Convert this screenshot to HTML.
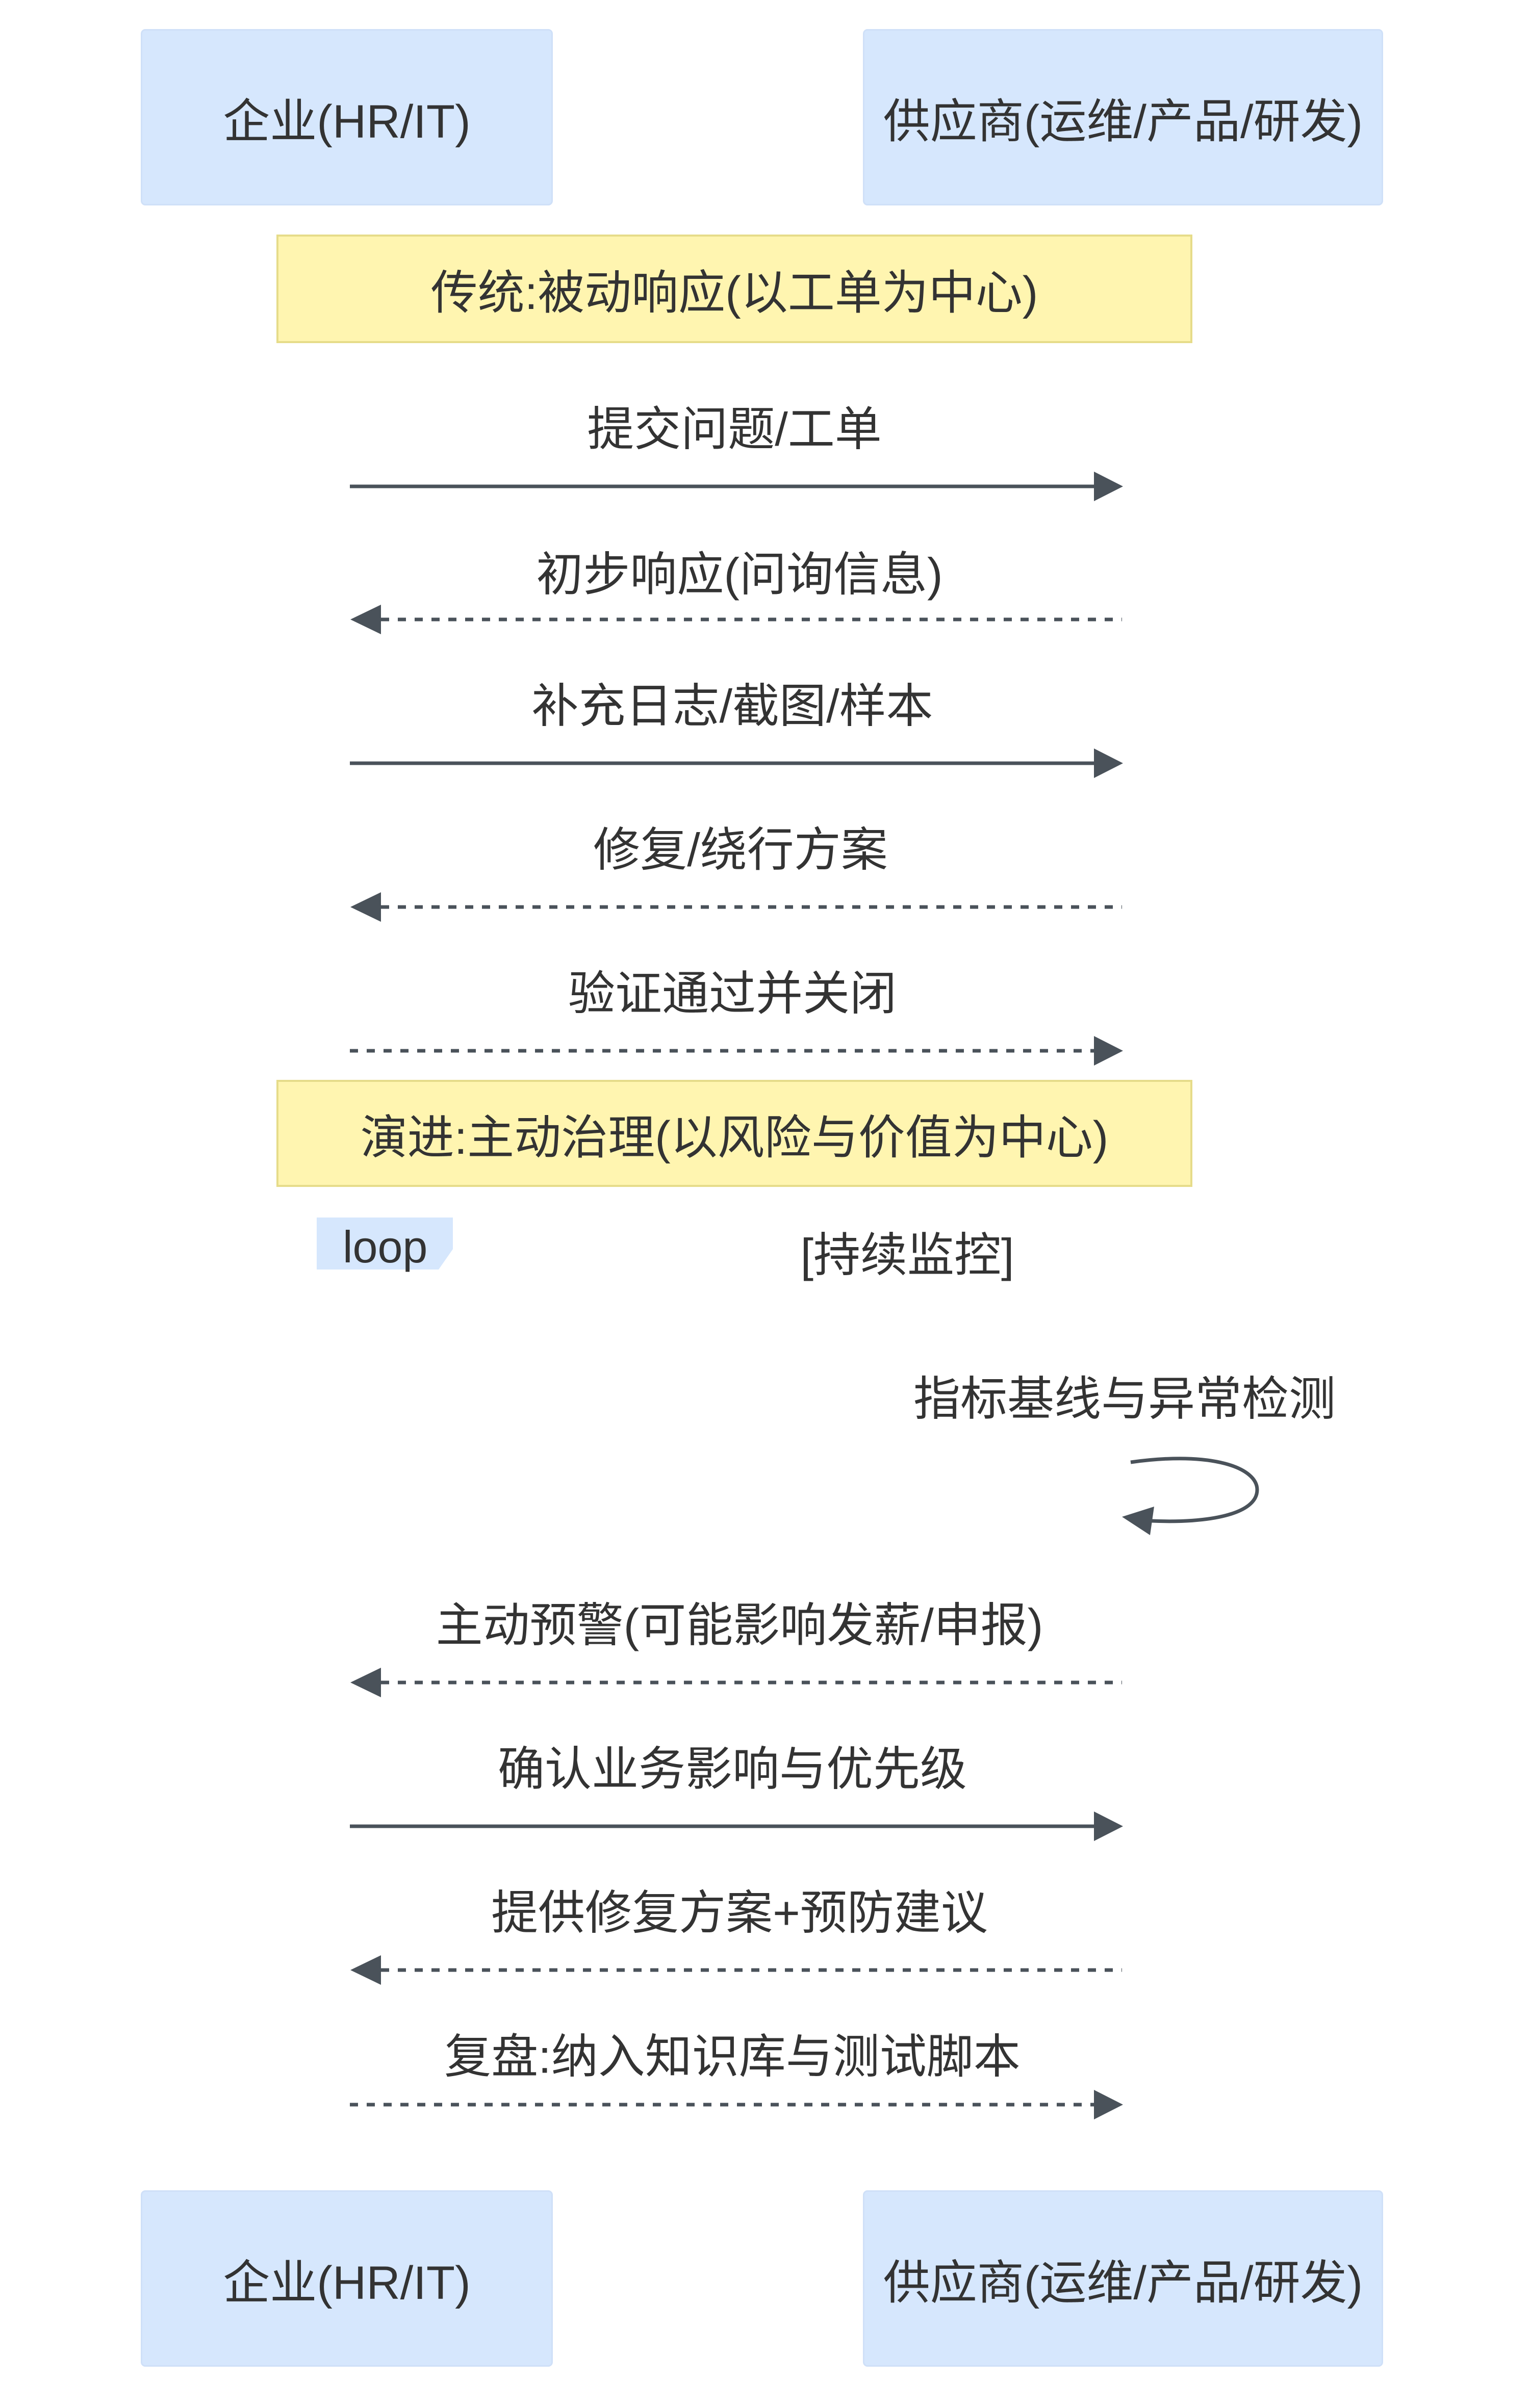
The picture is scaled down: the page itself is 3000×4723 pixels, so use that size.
<!DOCTYPE html>
<html><head><meta charset="utf-8"><style>
html,body{margin:0;padding:0;background:#fff;}
body{width:3000px;height:4723px;position:relative;overflow:hidden;font-family:"Liberation Sans","Noto Sans CJK SC",sans-serif;color:#333;}
.box{position:absolute;background:#d6e7fd;border:3px solid #cfe0f8;border-radius:9px;box-sizing:border-box;display:flex;align-items:center;justify-content:center;font-size:92px;color:#333;}
.note{position:absolute;background:#fff5b0;border:4px solid #e6dc8a;box-sizing:border-box;display:flex;align-items:center;justify-content:center;font-size:92px;color:#333;}
.lbl{position:absolute;transform:translate(-50%,-50%);font-size:92px;white-space:nowrap;color:#333;}
svg{position:absolute;left:0;top:0;}
</style></head><body>
<div class="box" style="left:276px;top:57px;width:808px;height:346px;">企业(HR/IT)</div>
<div class="box" style="left:1692px;top:57px;width:1020px;height:346px;">供应商(运维/产品/研发)</div>
<div class="box" style="left:276px;top:4296px;width:808px;height:346px;">企业(HR/IT)</div>
<div class="box" style="left:1692px;top:4296px;width:1020px;height:346px;">供应商(运维/产品/研发)</div>
<div class="note" style="left:542px;top:460px;width:1796px;height:213px;">传统:被动响应(以工单为中心)</div>
<div class="note" style="left:542px;top:2118px;width:1796px;height:210px;">演进:主动治理(以风险与价值为中心)</div>

<div class="lbl" style="left:1440px;top:834px;">提交问题/工单</div>
<div class="lbl" style="left:1450px;top:1119px;">初步响应(问询信息)</div>
<div class="lbl" style="left:1436px;top:1377px;">补充日志/截图/样本</div>
<div class="lbl" style="left:1452px;top:1659px;">修复/绕行方案</div>
<div class="lbl" style="left:1436px;top:1941px;">验证通过并关闭</div>
<div class="lbl" style="left:1779px;top:2454px;">[持续监控]</div>
<div class="lbl" style="left:2205px;top:2736px;">指标基线与异常检测</div>
<div class="lbl" style="left:1450px;top:3180px;">主动预警(可能影响发薪/申报)</div>
<div class="lbl" style="left:1436px;top:3462px;">确认业务影响与优先级</div>
<div class="lbl" style="left:1450px;top:3744px;">提供修复方案+预防建议</div>
<div class="lbl" style="left:1436px;top:4026px;">复盘:纳入知识库与测试脚本</div>

<svg width="3000" height="4723" viewBox="0 0 3000 4723">
<polygon points="621,2388 888,2388 888,2450 860,2490 621,2490" fill="#d6e7fd"/>
<text x="672" y="2476" font-family="Liberation Sans, sans-serif" font-size="88" fill="#333">loop</text>
<g stroke="#4a525a" stroke-width="7" fill="none">
<line x1="686" y1="954" x2="2145" y2="954"/>
<line x1="747" y1="1215" x2="2200" y2="1215" stroke-dasharray="16 17"/>
<line x1="686" y1="1497" x2="2145" y2="1497"/>
<line x1="747" y1="1779" x2="2200" y2="1779" stroke-dasharray="16 17"/>
<line x1="686" y1="2061" x2="2145" y2="2061" stroke-dasharray="16 17"/>
<line x1="747" y1="3300" x2="2200" y2="3300" stroke-dasharray="16 17"/>
<line x1="686" y1="3582" x2="2145" y2="3582"/>
<line x1="747" y1="3864" x2="2200" y2="3864" stroke-dasharray="16 17"/>
<line x1="686" y1="4128" x2="2145" y2="4128" stroke-dasharray="16 17"/>
<path d="M2217,2868 C2380,2845 2465,2880 2465,2922 C2465,2970 2370,2988 2258,2983"/>
</g>
<g fill="#4a525a">
<polygon points="2145,925 2202,954 2145,983"/>
<polygon points="747,1186 687,1215 747,1244"/>
<polygon points="2145,1468 2202,1497 2145,1526"/>
<polygon points="747,1750 687,1779 747,1808"/>
<polygon points="2145,2032 2202,2061 2145,2090"/>
<polygon points="747,3271 687,3300 747,3329"/>
<polygon points="2145,3553 2202,3582 2145,3611"/>
<polygon points="747,3835 687,3864 747,3893"/>
<polygon points="2145,4099 2202,4128 2145,4157"/>
<polygon points="2263,2955 2200,2975 2255,3011"/>
</g>
</svg>
</body></html>
